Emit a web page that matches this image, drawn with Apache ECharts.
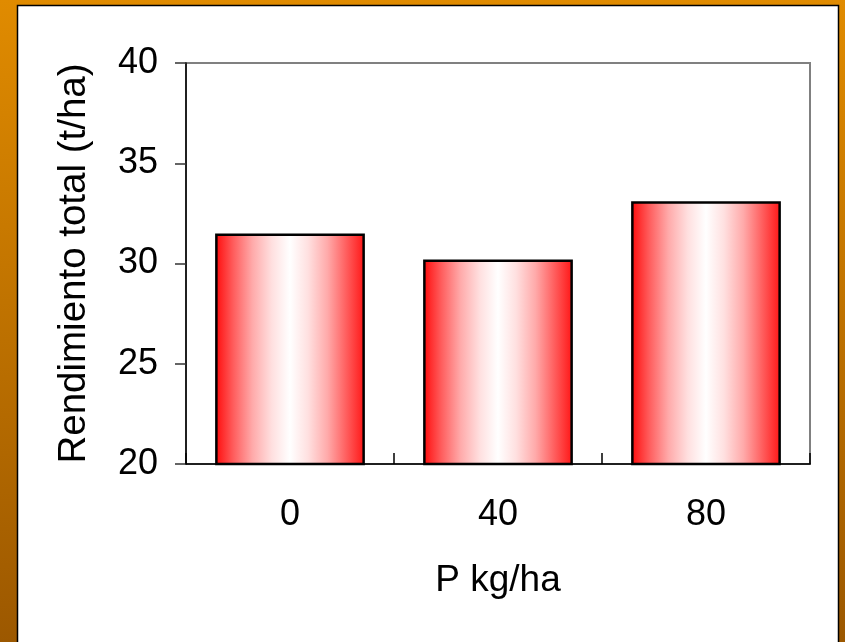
<!DOCTYPE html>
<html>
<head>
<meta charset="utf-8">
<script src="https://cdn.jsdelivr.net/npm/echarts@6/dist/echarts.min.js"></script>
<style>
html,body{margin:0;padding:0;background:#fff;}
#chart{width:845px;height:642px;}
</style>
</head>
<body>
<div id="chart"></div>
<script>
const categories = ['0', '40', '80'];
const yieldValues = [31.5, 30.2, 33.1];
const yTicks = [20, 25, 30, 35, 40];
const xAxisName = 'P kg/ha';
const yAxisName = 'Rendimiento total (t/ha)';

const FONT = 'Arial, "Liberation Sans", sans-serif';
const chart = echarts.init(document.getElementById('chart'), null, {renderer: 'canvas'});

const barFill = new echarts.graphic.LinearGradient(0, 0, 1, 0, [
  {offset: 0, color: '#ff0a0a'},
  {offset: 0.12, color: '#ff5c5c'},
  {offset: 0.25, color: '#ffaaaa'},
  {offset: 0.38, color: '#ffe0e0'},
  {offset: 0.5, color: '#ffffff'},
  {offset: 0.62, color: '#ffe0e0'},
  {offset: 0.75, color: '#ffaaaa'},
  {offset: 0.88, color: '#ff5c5c'},
  {offset: 1, color: '#ff1414'}
]);

chart.setOption({
  animation: false,
  backgroundColor: 'transparent',
  graphic: [
    {
      type: 'rect', z: -20, silent: true,
      shape: {x: 0, y: 0, width: 845, height: 642},
      style: {fill: new echarts.graphic.LinearGradient(0, 0, 0, 1, [
        {offset: 0, color: '#e08b00'},
        {offset: 1, color: '#9c5800'}
      ])}
    },
    {
      type: 'rect', z: -19, silent: true,
      shape: {x: 17.5, y: 5.5, width: 821, height: 650},
      style: {fill: '#ffffff', stroke: '#000000', lineWidth: 1.5}
    }
  ],
  grid: {
    left: 186, top: 63, right: 35, bottom: 178,
    show: true, borderColor: '#808080', borderWidth: 2, backgroundColor: 'transparent'
  },
  xAxis: {
    type: 'category',
    data: categories,
    name: xAxisName,
    nameLocation: 'middle',
    nameGap: 98,
    nameTextStyle: {fontFamily: FONT, fontSize: 37, color: '#000'},
    axisLine: {show: true, lineStyle: {color: '#000', width: 1.5}},
    axisTick: {show: true, inside: true, length: 11, lineStyle: {color: '#000', width: 1.5}},
    axisLabel: {fontFamily: FONT, fontSize: 36, color: '#000', margin: 33},
    splitLine: {show: false}
  },
  yAxis: {
    type: 'value',
    min: yTicks[0],
    max: yTicks[yTicks.length - 1],
    interval: 5,
    name: yAxisName,
    nameLocation: 'middle',
    nameGap: 92,
    nameRotate: 90,
    nameTextStyle: {fontFamily: FONT, fontSize: 38.5, color: '#000'},
    axisLine: {show: true, lineStyle: {color: '#000', width: 1.5}},
    axisTick: {show: true, inside: false, length: 11, lineStyle: {color: '#333', width: 1.5}},
    axisLabel: {fontFamily: FONT, fontSize: 36, color: '#000', margin: 28},
    splitLine: {show: false}
  },
  series: [{
    type: 'bar',
    data: yieldValues,
    barWidth: '72%',
    itemStyle: {color: barFill, borderColor: '#000', borderWidth: 2.5}
  }]
});
</script>
</body>
</html>
